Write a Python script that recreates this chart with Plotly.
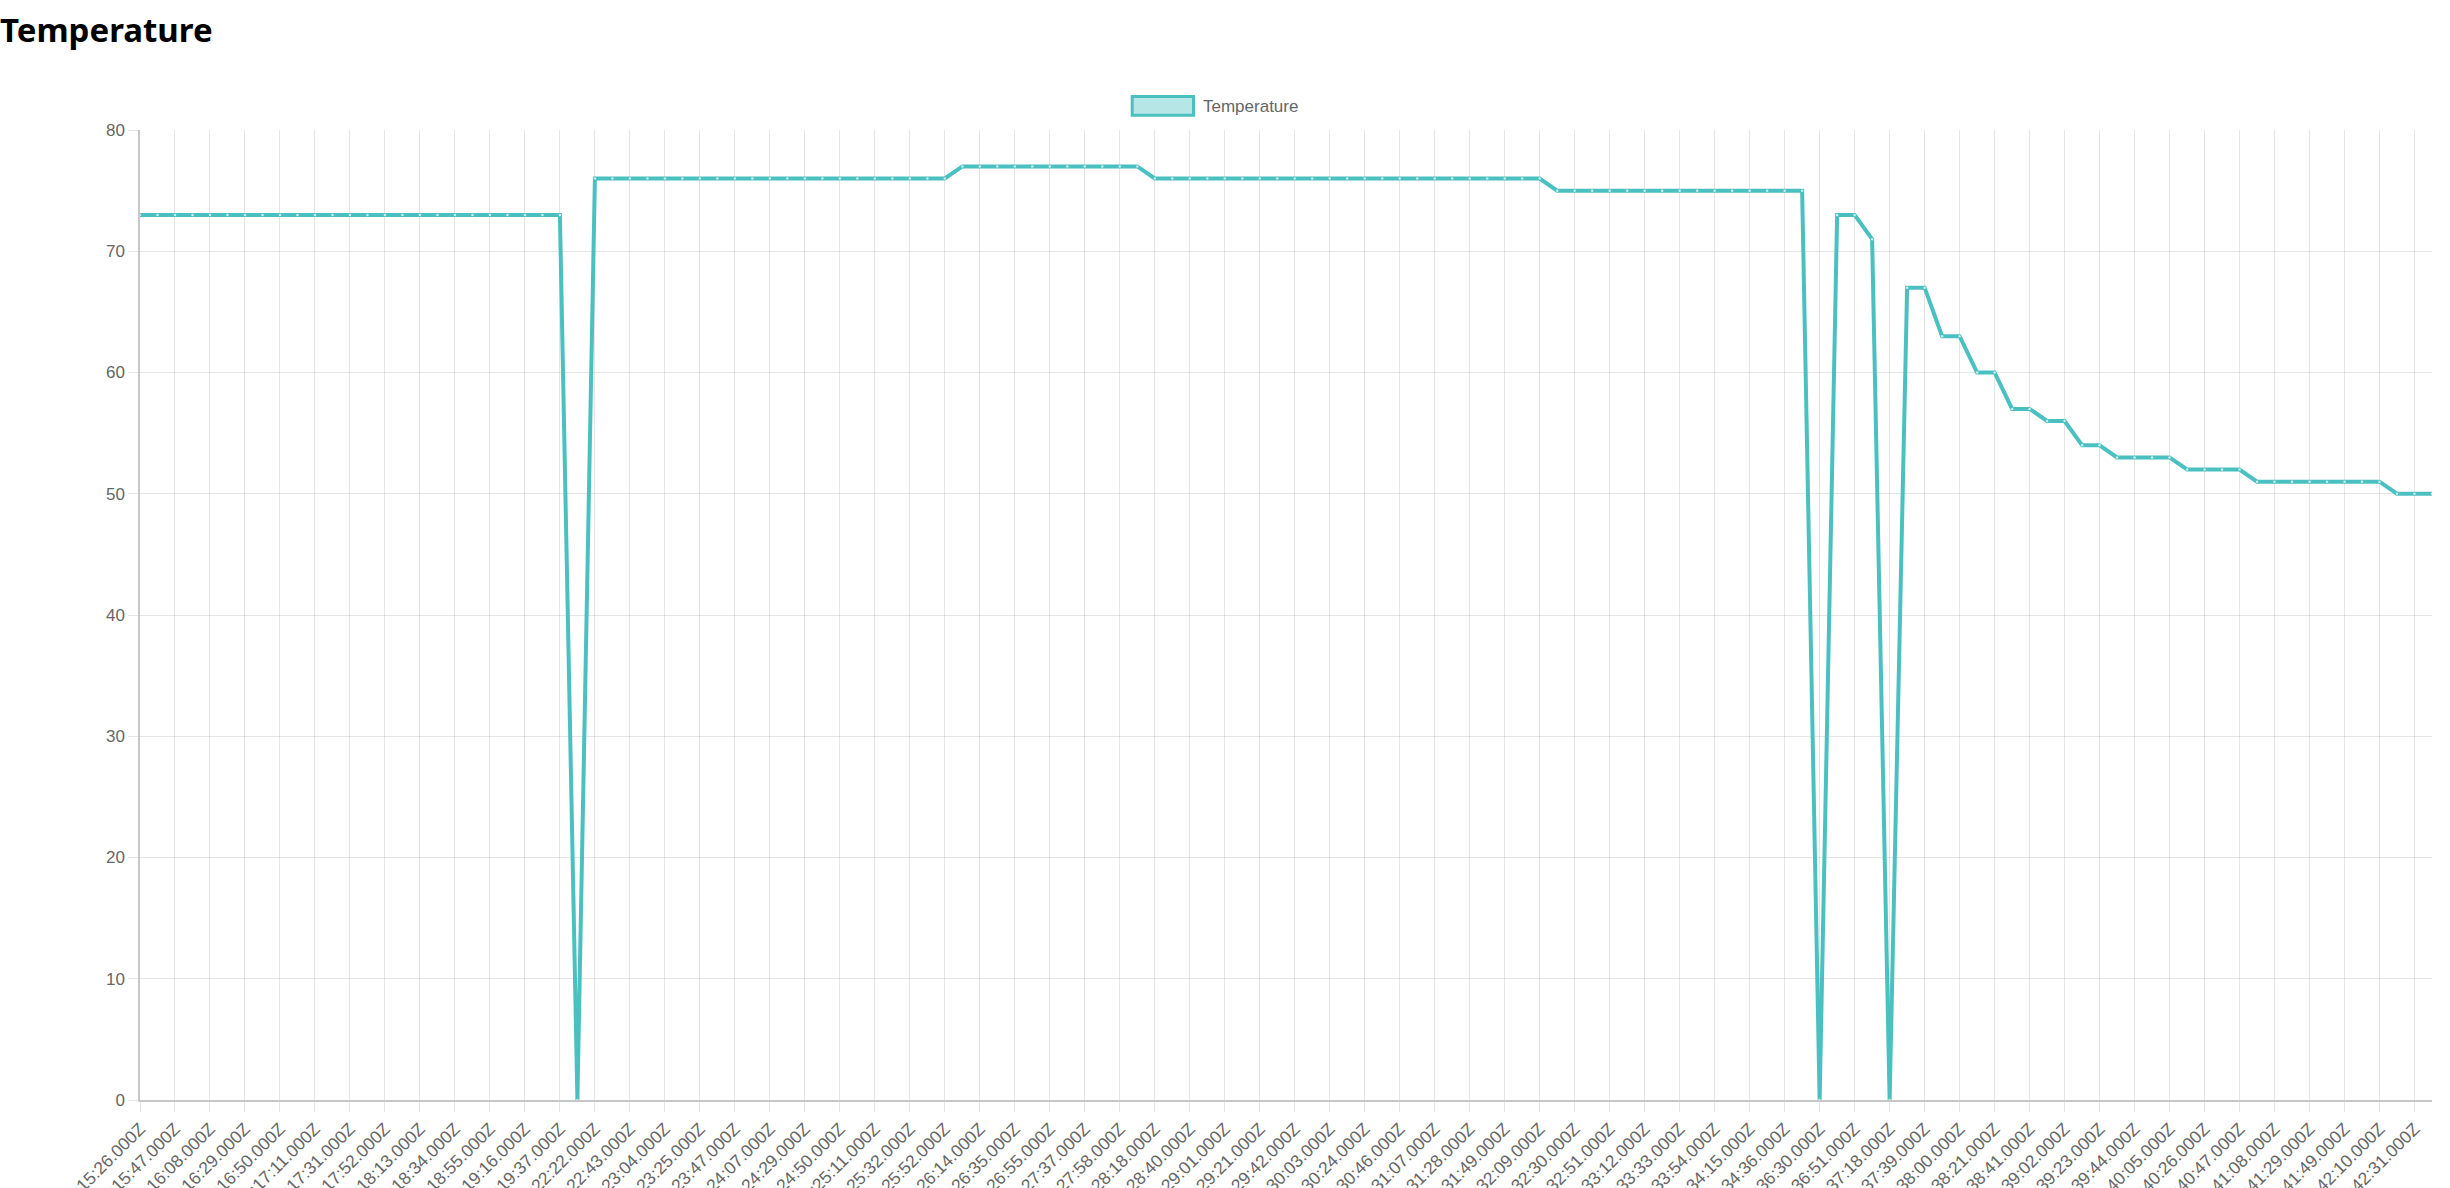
import plotly.graph_objects as go

DATE_PREFIX = "2021-03-09T11:"

times = [
    "15:26", "15:36", "15:47", "15:57", "16:08", "16:18", "16:29", "16:39",
    "16:50", "17:00", "17:11", "17:21", "17:31", "17:42", "17:52", "18:03",
    "18:13", "18:24", "18:34", "18:45", "18:55", "19:06", "19:16", "19:27",
    "19:37", "22:12", "22:22", "22:33", "22:43", "22:54", "23:04", "23:15",
    "23:25", "23:36", "23:47", "23:57", "24:07", "24:18", "24:29", "24:39",
    "24:50", "25:00", "25:11", "25:21", "25:32", "25:42", "25:52", "26:03",
    "26:14", "26:24", "26:35", "26:45", "26:55", "27:16", "27:37", "27:47",
    "27:58", "28:08", "28:18", "28:29", "28:40", "28:50", "29:01", "29:11",
    "29:21", "29:32", "29:42", "29:53", "30:03", "30:14", "30:24", "30:35",
    "30:46", "30:56", "31:07", "31:17", "31:28", "31:38", "31:49", "31:59",
    "32:09", "32:20", "32:30", "32:41", "32:51", "33:02", "33:12", "33:23",
    "33:33", "33:44", "33:54", "34:05", "34:15", "34:26", "34:36", "34:47",
    "36:30", "36:41", "36:51", "37:05", "37:18", "37:29", "37:39", "37:50",
    "38:00", "38:11", "38:21", "38:31", "38:41", "38:52", "39:02", "39:13",
    "39:23", "39:34", "39:44", "39:55", "40:05", "40:16", "40:26", "40:37",
    "40:47", "40:58", "41:08", "41:19", "41:29", "41:39", "41:49", "42:00",
    "42:10", "42:21", "42:31", "42:41",
]

temperature = [
    73, 73, 73, 73, 73, 73, 73, 73, 73, 73, 73, 73, 73, 73, 73, 73,
    73, 73, 73, 73, 73, 73, 73, 73, 73, 0, 76, 76, 76, 76, 76, 76,
    76, 76, 76, 76, 76, 76, 76, 76, 76, 76, 76, 76, 76, 76, 76, 77,
    77, 77, 77, 77, 77, 77, 77, 77, 77, 77, 76, 76, 76, 76, 76, 76,
    76, 76, 76, 76, 76, 76, 76, 76, 76, 76, 76, 76, 76, 76, 76, 76,
    76, 75, 75, 75, 75, 75, 75, 75, 75, 75, 75, 75, 75, 75, 75, 75,
    0, 73, 73, 71, 0, 67, 67, 63, 63, 60, 60, 57, 57, 56, 56, 54,
    54, 53, 53, 53, 53, 52, 52, 52, 52, 51, 51, 51, 51, 51, 51, 51,
    51, 50, 50, 50,
]

labels = [DATE_PREFIX + t + ".000Z" for t in times]
tick_labels = labels[::2]
y_ticks = [0, 10, 20, 30, 40, 50, 60, 70, 80]

W, H = 2433, 1290
L, R, T, B = 140, 1, 130, 190
PW, PH = W - L - R, H - T - B

TEAL = "rgb(75,192,192)"
TEAL_FILL = "rgba(75,192,192,0.4)"
GRID = "rgba(0,0,0,0.1)"
AXIS = "rgba(0,0,0,0.22)"
FONT = "Liberation Sans, Arial, sans-serif"


def px_x(px):
    return (px - L) / PW


def px_y(py):
    return (T + PH - py) / PH


fig = go.Figure()
fig.add_trace(go.Scatter(
    x=labels, y=temperature, name="Temperature",
    mode="lines+markers",
    line=dict(color=TEAL, width=4),
    marker=dict(size=2.5, color="#c9ecec", line=dict(width=0)),
    showlegend=False,
))

fig.update_layout(
    width=W, height=H,
    margin=dict(l=L, r=R, t=T, b=B, autoexpand=False),
    paper_bgcolor="white", plot_bgcolor="white",
    font=dict(family=FONT, color="#666", size=17),
    title=dict(
        text="<b>Temperature</b>",
        font=dict(family="Noto Sans, Open Sans, sans-serif", size=33, color="black"),
        x=0, xref="container", xanchor="left",
        y=1 - 19 / H, yref="container", yanchor="top",
        pad=dict(l=0, t=0, r=0, b=0),
    ),
    xaxis=dict(
        type="category", range=[0, len(labels) - 1],
        tickmode="array", tickvals=tick_labels, ticktext=tick_labels,
        tickangle=-45, showgrid=True, gridcolor=GRID, gridwidth=1,
        ticks="outside", ticklen=10, tickcolor=GRID, tickwidth=1,
        showline=True, linecolor=AXIS, linewidth=1.5,
        zeroline=False, automargin=False,
        tickfont=dict(size=17.5, color="#666", family=FONT),
    ),
    yaxis=dict(
        range=[0, 80], tickmode="array", tickvals=y_ticks,
        showgrid=True, gridcolor=GRID, gridwidth=1,
        ticks="outside", ticklen=10, tickcolor=GRID, tickwidth=1,
        showline=True, linecolor=AXIS, linewidth=1.5,
        zeroline=False, automargin=False,
        tickfont=dict(size=17, color="#666", family=FONT),
    ),
    shapes=[dict(
        type="rect", xref="paper", yref="paper",
        x0=px_x(1132.2), x1=px_x(1193.5), y0=px_y(115.2), y1=px_y(96.5),
        line=dict(color=TEAL, width=3), fillcolor=TEAL_FILL, layer="above",
    )],
    annotations=[dict(
        text="Temperature", xref="paper", yref="paper",
        x=px_x(1201), y=px_y(106), xanchor="left", yanchor="middle",
        showarrow=False, font=dict(size=17, color="#666", family=FONT),
    )],
)

fig.write_html(
    "out.html",
    config={"displayModeBar": False},
    post_script="document.body.style.margin='0px';",
)
